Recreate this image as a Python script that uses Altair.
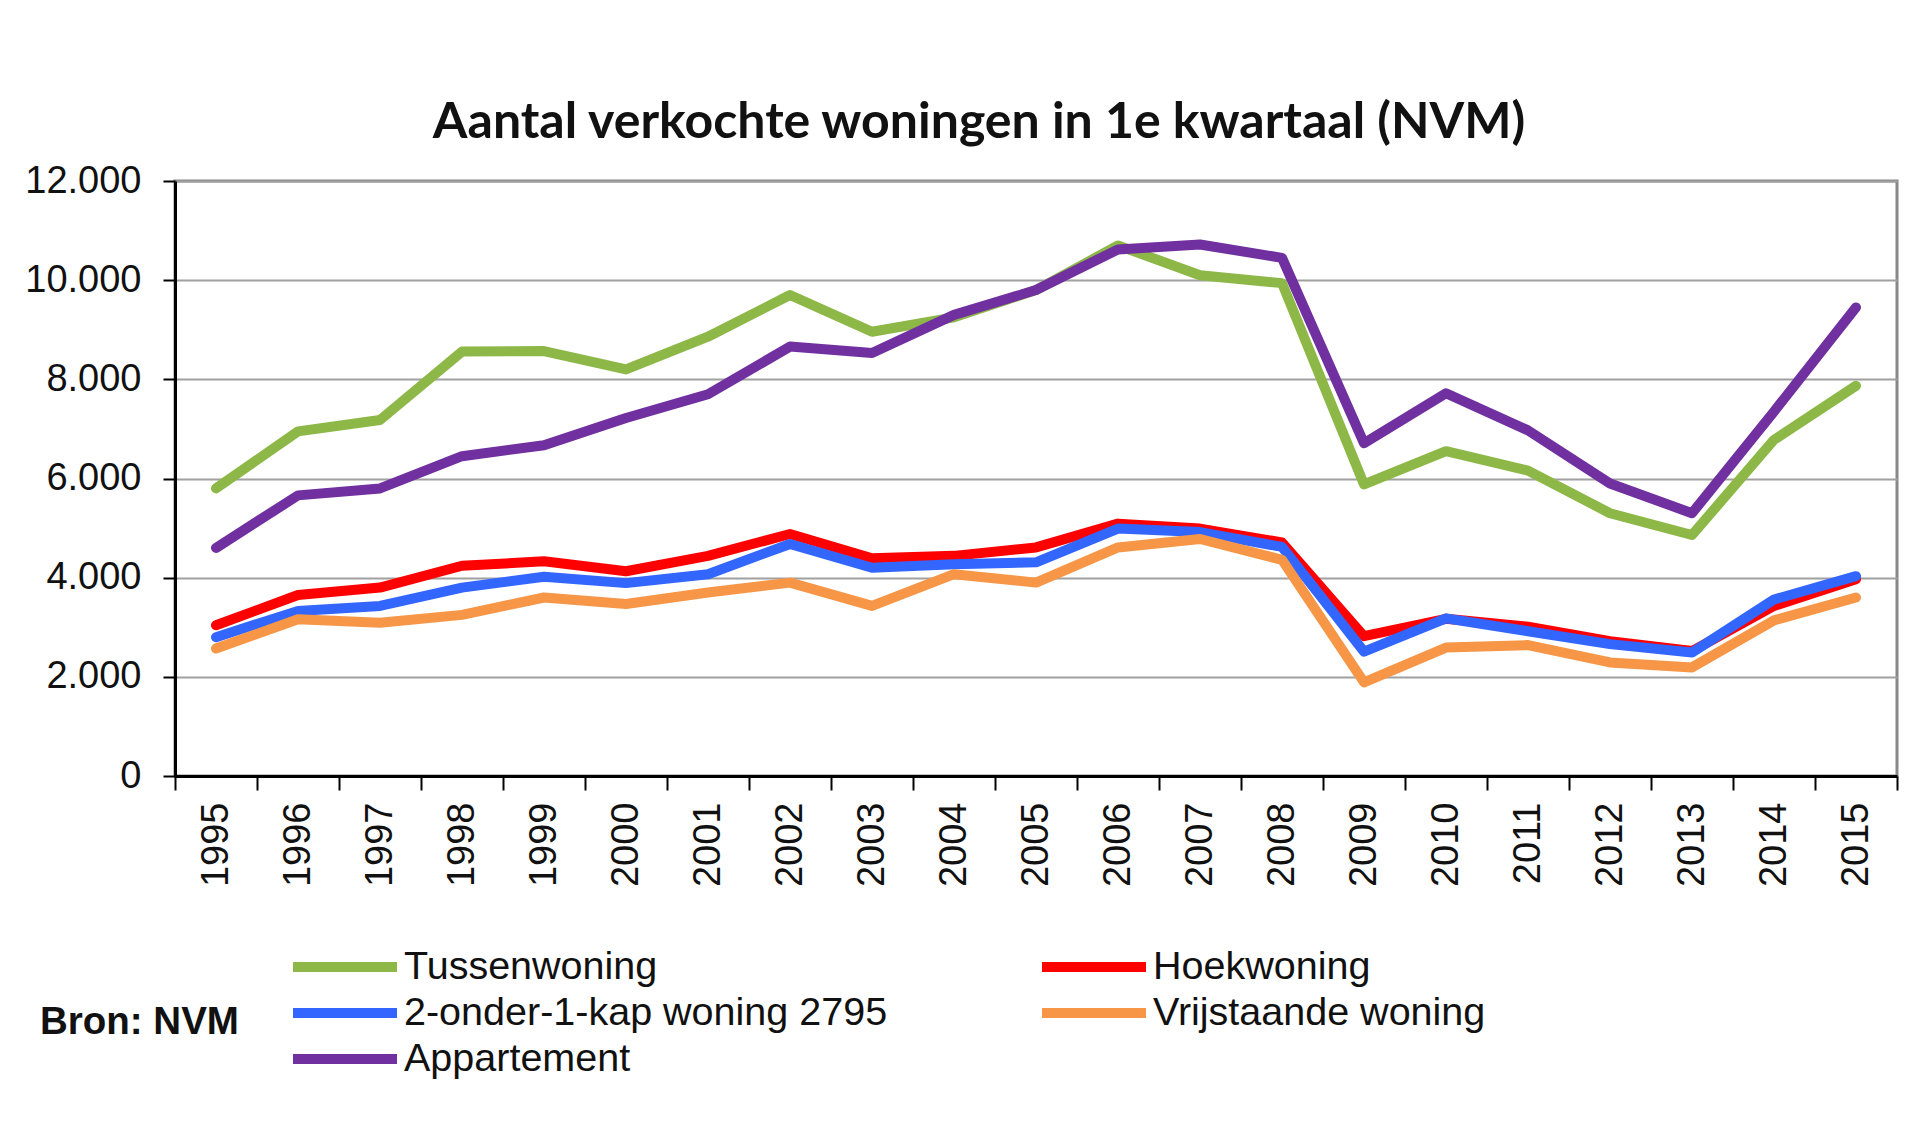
import altair as alt
import pandas as pd

years = [str(y) for y in range(1995, 2016)]
series_names = ["Tussenwoning", "Hoekwoning", "2-onder-1-kap woning 2795",
                "Vrijstaande woning", "Appartement"]
colors = ["#8DB848", "#FF0000", "#3366FF", "#F79646", "#7030A0"]

tussenwoning = [5800, 6950, 7180, 8560, 8570, 8200, 8860, 9700, 8960, 9250, 9800,
                10700, 10100, 9940, 5880, 6550, 6160, 5300, 4860, 6780, 7870]
hoekwoning = [3040, 3650, 3800, 4240, 4330, 4130, 4440, 4880, 4390, 4440, 4610,
              5090, 4990, 4710, 2820, 3170, 3010, 2720, 2520, 3430, 3970]
twee_onder_een_kap = [2800, 3330, 3430, 3800, 4020, 3890, 4070, 4680, 4200, 4270, 4310,
                      4990, 4920, 4620, 2510, 3180, 2920, 2660, 2490, 3560, 4030]
vrijstaand = [2570, 3160, 3090, 3250, 3600, 3470, 3700, 3900, 3430, 4070, 3900,
              4610, 4780, 4360, 1890, 2590, 2640, 2290, 2190, 3140, 3600]
appartement = [4600, 5660, 5800, 6450, 6670, 7220, 7700, 8660, 8530, 9300, 9800,
               10620, 10720, 10450, 6710, 7720, 6970, 5900, 5300, 7350, 9450]

y_ticks = [0, 2000, 4000, 6000, 8000, 10000, 12000]

all_series = [tussenwoning, hoekwoning, twee_onder_een_kap, vrijstaand, appartement]
rows = []
for name, vals in zip(series_names, all_series):
    for yr, v in zip(years, vals):
        rows.append({"jaar": yr, "serie": name, "aantal": v})
df = pd.DataFrame(rows)

label_font = "Liberation Sans"

lines = alt.Chart(df).mark_line(strokeWidth=10, strokeCap="round", strokeJoin="round").encode(
    x=alt.X("jaar:N", sort=years, bandPosition=0.5,
            scale=alt.Scale(type="band", paddingInner=0, paddingOuter=0),
            axis=alt.Axis(title=None, labelAngle=-90, tickBand="extent",
                          labelFont=label_font, labelFontSize=38, labelColor="#111",
                          tickSize=14, tickWidth=2, tickColor="black",
                          domainColor="black", domainWidth=3, labelPadding=12,
                          grid=False)),
    y=alt.Y("aantal:Q",
            scale=alt.Scale(domain=[0, 12000], nice=False),
            axis=alt.Axis(title=None, values=y_ticks,
                          labelExpr="replace(format(datum.value, ','), ',', '.')",
                          labelFont=label_font, labelFontSize=38, labelColor="#111",
                          tickSize=12, tickWidth=2, tickColor="black",
                          domainColor="black", domainWidth=3, labelPadding=22,
                          grid=True, gridColor="#A0A0A0", gridWidth=2)),
    color=alt.Color("serie:N",
                    scale=alt.Scale(domain=series_names, range=colors),
                    legend=alt.Legend(title=None, orient="none", legendX=113, legendY=765,
                                      direction="horizontal", columns=2, columnPadding=149,
                                      rowPadding=4, padding=0, clipHeight=42,
                                      symbolType="stroke", symbolSize=10816,
                                      symbolStrokeWidth=10, labelOffset=2,
                                      labelFont=label_font, labelFontSize=39.5,
                                      labelColor="#111", labelLimit=800)),
    detail="serie:N",
)

bron = alt.Chart(pd.DataFrame({"t": ["Bron: NVM"]})).mark_text(
    align="left", baseline="middle", font=label_font, fontSize=38.5,
    fontWeight="bold", color="#111"
).encode(text="t:N", x=alt.value(-135), y=alt.value(841))

chart = alt.layer(lines, bron).properties(
    width=1722, height=595,
    title=alt.TitleParams("Aantal verkochte woningen in 1e kwartaal (NVM)",
                          font="Lato", fontSize=50, fontWeight="bold", color="#111",
                          anchor="middle", dx=-57, offset=14),
    autosize=alt.AutoSizeParams(type="none"),
    padding={"left": 167, "top": 173, "right": 12, "bottom": 330},
    background="white",
).configure_view(stroke="#888888", strokeWidth=3)

chart.save("out.html", embed_options={"renderer": "svg", "actions": False})
